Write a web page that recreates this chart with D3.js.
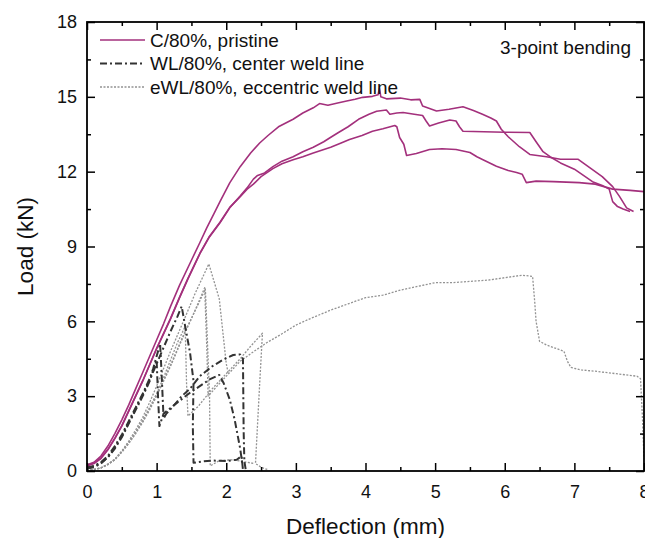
<!DOCTYPE html>
<html>
<head>
<meta charset="utf-8">
<script src="https://cdn.jsdelivr.net/npm/d3@7"></script>
<style>
  body { margin: 0; background: #fff; }
  text { font-family: Arial, "Liberation Sans", sans-serif; fill: #111; }
</style>
</head>
<body>
<div id="chart"></div>
<script>
// tick values
const xTicks = [0, 1, 2, 3, 4, 5, 6, 7, 8];
const yTicks = [0, 3, 6, 9, 12, 15, 18];

// C/80%, pristine (3 specimens) - [deflection mm, load kN]
const c1 = [[0,0.25],[0.1,0.35],[0.2,0.6],[0.3,1.0],[0.4,1.5],[0.5,2.05],[0.6,2.65],[0.7,3.3],[0.8,3.95],[0.9,4.6],[1.0,5.25],[1.1,5.9],[1.2,6.6],[1.33,7.45],[1.5,8.45],[1.62,9.15],[1.72,9.75],[1.82,10.3],[1.91,10.8],[2.05,11.55],[2.2,12.2],[2.35,12.75],[2.48,13.15],[2.6,13.45],[2.75,13.8],[2.96,14.1],[3.1,14.35],[3.25,14.56],[3.34,14.73],[3.46,14.66],[3.6,14.75],[3.73,14.83],[3.85,14.9],[3.96,14.98],[4.1,15.02],[4.18,15.08],[4.2,15.35],[4.22,15.0],[4.3,14.92],[4.5,14.95],[4.65,14.88],[4.78,14.9],[4.82,14.63],[4.9,14.55],[5.02,14.43],[5.2,14.5],[5.4,14.6],[5.55,14.45],[5.68,14.3],[5.8,14.15],[5.88,14.03],[5.95,13.7],[6.05,13.4],[6.21,13.0],[6.36,12.69],[6.6,12.6],[6.8,12.5],[7.05,12.5],[7.15,12.3],[7.25,12.1],[7.4,11.8],[7.55,11.4],[7.65,11.0],[7.75,10.55],[7.85,10.4]];
const c2 = [[0,0.2],[0.1,0.3],[0.2,0.5],[0.3,0.85],[0.4,1.3],[0.5,1.8],[0.6,2.4],[0.7,3.0],[0.8,3.6],[0.9,4.25],[1.0,4.9],[1.1,5.5],[1.2,6.1],[1.33,6.95],[1.45,7.7],[1.62,8.7],[1.75,9.35],[1.91,9.95],[2.05,10.55],[2.2,11.02],[2.3,11.35],[2.39,11.7],[2.45,11.85],[2.55,11.95],[2.67,12.2],[2.8,12.42],[2.96,12.6],[3.1,12.8],[3.25,12.98],[3.4,13.2],[3.49,13.36],[3.6,13.55],[3.75,13.8],[3.9,14.1],[4.05,14.3],[4.16,14.42],[4.3,14.47],[4.35,14.3],[4.45,14.35],[4.54,14.37],[4.7,14.3],[4.82,14.25],[4.87,14.03],[4.92,13.83],[5.05,13.95],[5.21,14.07],[5.3,14.03],[5.35,13.8],[5.4,13.62],[5.7,13.6],[6.0,13.58],[6.36,13.57],[6.45,13.2],[6.55,12.8],[6.65,12.6],[6.8,12.35],[7.0,12.1],[7.26,11.6],[7.4,11.45],[7.5,11.3],[7.55,10.8],[7.62,10.6],[7.7,10.5],[7.8,10.4]];
const c3 = [[0,0.22],[0.1,0.32],[0.2,0.52],[0.3,0.87],[0.4,1.32],[0.5,1.82],[0.6,2.42],[0.7,3.02],[0.8,3.62],[0.9,4.27],[1.0,4.92],[1.1,5.52],[1.2,6.12],[1.33,6.97],[1.45,7.72],[1.62,8.72],[1.75,9.37],[1.91,9.97],[2.05,10.57],[2.2,11.0],[2.3,11.3],[2.39,11.5],[2.5,11.8],[2.67,12.12],[2.8,12.32],[2.96,12.48],[3.1,12.6],[3.25,12.75],[3.5,12.98],[3.65,13.15],[3.77,13.29],[3.95,13.45],[4.1,13.62],[4.25,13.72],[4.42,13.85],[4.45,13.8],[4.49,13.37],[4.55,13.1],[4.59,12.65],[4.73,12.73],[4.92,12.89],[5.1,12.92],[5.3,12.89],[5.5,12.77],[5.6,12.6],[5.68,12.49],[5.88,12.22],[6.05,12.05],[6.17,11.97],[6.25,11.9],[6.31,11.56],[6.45,11.62],[6.7,11.6],[7.07,11.56],[7.3,11.5],[7.55,11.3],[7.8,11.25],[8.0,11.2]];

// WL/80%, center weld line
const wl1 = [[0,0.15],[0.1,0.2],[0.2,0.35],[0.3,0.6],[0.4,1.0],[0.5,1.45],[0.6,2.0],[0.7,2.55],[0.8,3.1],[0.9,3.7],[0.95,4.1],[1.0,4.6],[1.05,5.1],[1.07,4.0],[1.1,2.1],[1.14,2.3],[1.24,2.6],[1.36,3.0],[1.48,3.3],[1.62,3.8],[1.8,4.2],[1.96,4.47],[2.1,4.65],[2.2,4.67],[2.24,4.5],[2.25,1.6],[2.26,0.4],[2.28,0.05]];
const wl2 = [[0,0.1],[0.1,0.15],[0.2,0.3],[0.3,0.55],[0.4,0.9],[0.5,1.35],[0.6,1.9],[0.7,2.45],[0.8,3.0],[0.9,3.6],[1.0,4.45],[1.02,3.0],[1.04,1.8],[1.1,2.3],[1.3,2.75],[1.48,3.14],[1.62,3.4],[1.76,3.67],[1.9,3.85],[1.96,3.54],[2.05,2.87],[2.12,2.07],[2.2,0.9],[2.23,0.3]];
const wl3 = [[0,0.12],[0.1,0.18],[0.2,0.32],[0.3,0.55],[0.4,0.95],[0.5,1.4],[0.6,1.95],[0.7,2.5],[0.8,3.05],[0.9,3.65],[1.0,4.3],[1.1,4.95],[1.2,5.6],[1.3,6.2],[1.36,6.6],[1.41,5.8],[1.48,4.74],[1.53,3.6],[1.52,1.8],[1.53,0.33],[1.65,0.38],[1.8,0.42],[2.0,0.4],[2.15,0.45],[2.22,0.6],[2.24,0.05]];

// eWL/80%, eccentric weld line
const ewl1 = [[0,0.02],[0.1,0.05],[0.2,0.12],[0.3,0.25],[0.4,0.45],[0.5,0.75],[0.6,1.1],[0.7,1.5],[0.8,1.95],[0.9,2.45],[1.0,3.0],[1.1,3.6],[1.2,4.2],[1.3,4.85],[1.4,5.5],[1.5,6.1],[1.6,6.75],[1.69,7.35],[1.72,5.0],[1.74,3.0],[1.9,3.5],[2.05,3.95],[2.2,4.4],[2.4,4.8],[2.58,5.14],[2.8,5.5],[3.0,5.85],[3.2,6.1],[3.5,6.45],[3.75,6.7],[4.0,6.95],[4.25,7.05],[4.5,7.25],[4.75,7.4],[5.0,7.55],[5.25,7.55],[5.5,7.6],[5.75,7.65],[6.0,7.75],[6.25,7.85],[6.4,7.8],[6.43,6.8],[6.45,6.0],[6.5,5.2],[6.6,5.05],[6.7,4.95],[6.85,4.8],[6.9,4.4],[6.95,4.15],[7.1,4.05],[7.3,4.0],[7.6,3.9],[7.9,3.8],[7.95,3.7],[7.98,2.0],[8.0,0.5]];
const ewl2 = [[0,0.03],[0.1,0.06],[0.2,0.13],[0.3,0.27],[0.4,0.48],[0.5,0.8],[0.6,1.2],[0.7,1.65],[0.8,2.15],[0.9,2.75],[1.0,3.4],[1.07,3.9],[1.2,4.8],[1.3,5.45],[1.4,6.1],[1.55,7.1],[1.65,7.7],[1.75,8.3],[1.9,6.9],[2.0,4.3],[2.03,3.9]];
const ewl3 = [[0,0.02],[0.1,0.05],[0.2,0.12],[0.3,0.26],[0.4,0.46],[0.5,0.78],[0.6,1.15],[0.7,1.55],[0.8,2.05],[0.9,2.55],[1.0,3.1],[1.1,3.75],[1.2,4.45],[1.3,5.15],[1.41,5.8],[1.43,3.5],[1.45,2.2],[1.6,2.6],[1.8,3.3],[2.0,3.9],[2.2,4.5],[2.35,5.0],[2.52,5.52],[2.48,3.5],[2.42,0.3],[2.5,0.15],[2.6,0.05]];
const ewl4 = [[0,0.02],[0.2,0.12],[0.4,0.45],[0.6,1.12],[0.8,1.98],[1.0,3.05],[1.2,4.25],[1.4,5.55],[1.6,6.7],[1.7,7.3],[1.76,3.0],[1.77,0.2],[1.9,0.42],[2.1,0.45],[2.3,0.35],[2.4,0.3]];

const legendLabels = ["C/80%, pristine", "WL/80%, center weld line", "eWL/80%, eccentric weld line"];

// styles per group
const styles = [
  {color: "#a3307c", width: 1.6, dash: null},
  {color: "#333333", width: 2, dash: "7,3,2,3"},
  {color: "#939393", width: 1.3, dash: "2,1.5"}
];

const groups = [
  {style: 2, curves: [ewl1, ewl2, ewl3, ewl4]},
  {style: 1, curves: [wl1, wl2, wl3]},
  {style: 0, curves: [c1, c2, c3]}
];

const width = 645, height = 538;
const plotLeft = 87, plotRight = 644, plotTop = 22, plotBottom = 471;

const xScale = d3.scaleLinear().domain([0, 8]).range([plotLeft, plotRight]);
const yScale = d3.scaleLinear().domain([0, 18]).range([plotBottom, plotTop]);

const svg = d3.select("#chart").append("svg")
  .attr("width", width)
  .attr("height", height);

svg.append("clipPath").attr("id", "plotclip")
  .append("rect")
  .attr("x", plotLeft).attr("y", plotTop)
  .attr("width", plotRight - plotLeft).attr("height", plotBottom - plotTop);

// curves
const line = d3.line().x(d => xScale(d[0])).y(d => yScale(d[1]));
const plot = svg.append("g").attr("clip-path", "url(#plotclip)");
groups.forEach(g => {
  const s = styles[g.style];
  plot.selectAll(null).data(g.curves).enter().append("path")
    .attr("d", line)
    .attr("fill", "none")
    .attr("stroke", s.color)
    .attr("stroke-width", s.width)
    .attr("stroke-dasharray", s.dash)
    .attr("stroke-linejoin", "round");
});

// axes (ticks inward)
const xMinor = d3.range(0.5, 8, 1);
const yMinor = d3.range(1.5, 18, 3);

function styleAxis(g) {
  g.select(".domain").remove();
  g.selectAll("line").attr("stroke", "#000").attr("stroke-width", 1.5);
  g.selectAll("text").attr("font-size", 18).attr("fill", "#111")
    .style("font-family", "Arial, 'Liberation Sans', sans-serif");
}

svg.append("g").attr("transform", `translate(0,${plotBottom})`)
  .call(d3.axisBottom(xScale).tickValues(xTicks).tickSize(-8).tickPadding(14).tickFormat(d3.format("d")))
  .call(styleAxis);
svg.append("g").attr("transform", `translate(0,${plotBottom})`)
  .call(d3.axisBottom(xScale).tickValues(xMinor).tickSize(-4).tickFormat(""))
  .call(styleAxis);
svg.append("g").attr("transform", `translate(0,${plotTop})`)
  .call(d3.axisTop(xScale).tickValues(xTicks).tickSize(-8).tickFormat(""))
  .call(styleAxis);
svg.append("g").attr("transform", `translate(0,${plotTop})`)
  .call(d3.axisTop(xScale).tickValues(xMinor).tickSize(-4).tickFormat(""))
  .call(styleAxis);

svg.append("g").attr("transform", `translate(${plotLeft},0)`)
  .call(d3.axisLeft(yScale).tickValues(yTicks).tickSize(-8).tickPadding(10).tickFormat(d3.format("d")))
  .call(styleAxis);
svg.append("g").attr("transform", `translate(${plotLeft},0)`)
  .call(d3.axisLeft(yScale).tickValues(yMinor).tickSize(-4).tickFormat(""))
  .call(styleAxis);
svg.append("g").attr("transform", `translate(${plotRight},0)`)
  .call(d3.axisRight(yScale).tickValues(yTicks).tickSize(-8).tickFormat(""))
  .call(styleAxis);
svg.append("g").attr("transform", `translate(${plotRight},0)`)
  .call(d3.axisRight(yScale).tickValues(yMinor).tickSize(-4).tickFormat(""))
  .call(styleAxis);

// frame
svg.append("rect")
  .attr("x", plotLeft).attr("y", plotTop)
  .attr("width", plotRight - plotLeft).attr("height", plotBottom - plotTop)
  .attr("fill", "none").attr("stroke", "#000").attr("stroke-width", 1.8);

// axis titles
svg.append("text")
  .attr("x", (plotLeft + plotRight) / 2).attr("y", 534)
  .attr("text-anchor", "middle").attr("font-size", 22.5)
  .text("Deflection (mm)");
svg.append("text")
  .attr("transform", `translate(33,${(plotTop + plotBottom) / 2}) rotate(-90)`)
  .attr("text-anchor", "middle").attr("font-size", 22.5)
  .text("Load (kN)");

// annotation
svg.append("text")
  .attr("x", 631).attr("y", 54)
  .attr("text-anchor", "end").attr("font-size", 19)
  .text("3-point bending");

// legend
const legend = svg.append("g");
const legendY = [40, 63.5, 87];
legendLabels.forEach((label, i) => {
  const s = styles[i];
  legend.append("line")
    .attr("x1", 100).attr("x2", 145)
    .attr("y1", legendY[i]).attr("y2", legendY[i])
    .attr("stroke", s.color)
    .attr("stroke-width", s.width)
    .attr("stroke-dasharray", s.dash);
  legend.append("text")
    .attr("x", 150).attr("y", legendY[i] + 6.5)
    .attr("font-size", 19)
    .text(label);
});
</script>
</body>
</html>
